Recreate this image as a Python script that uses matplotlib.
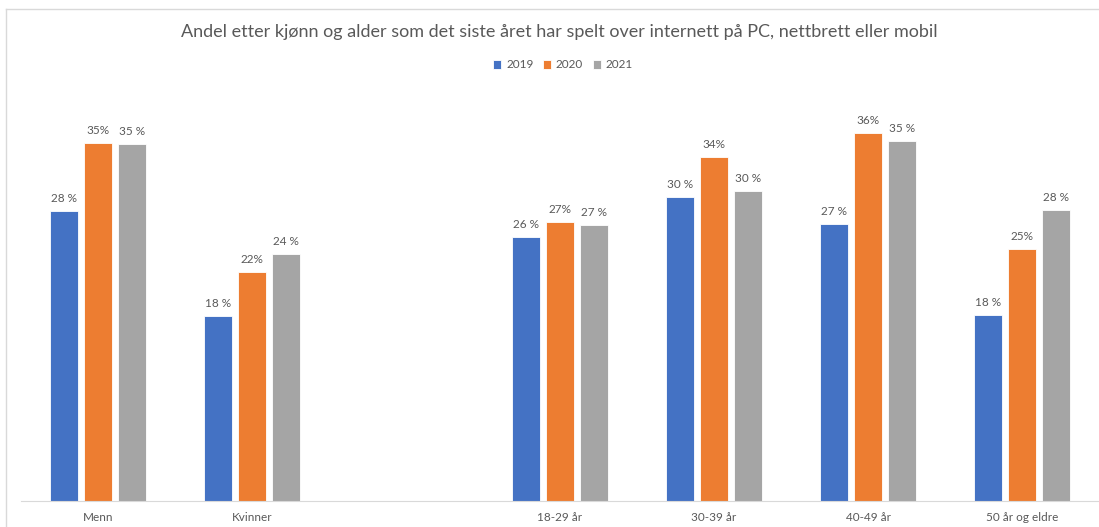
import numpy as np
import matplotlib
matplotlib.use("Agg")
import matplotlib.pyplot as plt
from matplotlib.lines import Line2D

plt.rcParams['font.family'] = ['Lato', 'DejaVu Sans']

# data (percent)
categories = ["Menn", "Kvinner", "", "18-29 år", "30-39 år", "40-49 år", "50 år og eldre"]
years = ["2019", "2020", "2021"]
v2019 = [28.4, 18.1, None, 25.9, 29.8, 27.1, 18.2]
v2020 = [35.1, 22.4, None, 27.3, 33.7, 36.0, 24.7]
v2021 = [35.0, 24.2, None, 27.0, 30.4, 35.3, 28.5]
colors = ["#4472C4", "#ED7D31", "#A5A5A5"]
text_col = "#595959"

W, H = 1099, 527
fig = plt.figure(figsize=(W / 100, H / 100), dpi=100)
ax = fig.add_axes([21 / W, (H - 501) / H, 1078 / W, 388 / H])

x = np.arange(len(categories))
width = 0.18
step = 0.22
for i, (vals, yr) in enumerate(zip([v2019, v2020, v2021], years)):
    xs = [xi + (i - 1) * step for xi, v in zip(x, vals) if v is not None]
    ys = [v for v in vals if v is not None]
    bars = ax.bar(xs, ys, width=width, color=colors[i], label=yr,
                  edgecolor="white", linewidth=0.6)
    sep = "" if yr == "2020" else " "
    for b, v in zip(bars, ys):
        ax.annotate(f"{round(v)}{sep}%", (b.get_x() + b.get_width() / 2, v),
                    xytext=(0, 5), textcoords="offset points",
                    ha="center", va="bottom", fontsize=8.5, color=text_col)

ax.set_xlim(-0.5, 6.5)
ax.set_ylim(0, 38)
ax.set_yticks([])
ax.set_xticks(x)
ax.set_xticklabels(categories, fontsize=8.5, color=text_col)
ax.tick_params(axis="x", length=0, pad=8)
for s in ["top", "right", "left"]:
    ax.spines[s].set_visible(False)
ax.spines["bottom"].set_color("#D9D9D9")

fig.text(559 / W, 1 - 32 / H, "Andel etter kjønn og alder som det siste året har spelt over internett på PC, nettbrett eller mobil",
         ha="center", va="center", fontsize=13, color=text_col)
fig.legend(loc="center", bbox_to_anchor=(563 / W, 1 - 65 / H), ncol=3, frameon=False,
           fontsize=8.5, handlelength=0.7, handleheight=0.7, handletextpad=0.4,
           columnspacing=0.8, labelcolor=text_col)

# chart frame (top and left edges)
fig.add_artist(Line2D([6 / W, 1], [1 - 9 / H, 1 - 9 / H], color="#D9D9D9", lw=1))
fig.add_artist(Line2D([6 / W, 6 / W], [0, 1 - 9 / H], color="#D9D9D9", lw=1))

fig.savefig("out.png", dpi=100)
